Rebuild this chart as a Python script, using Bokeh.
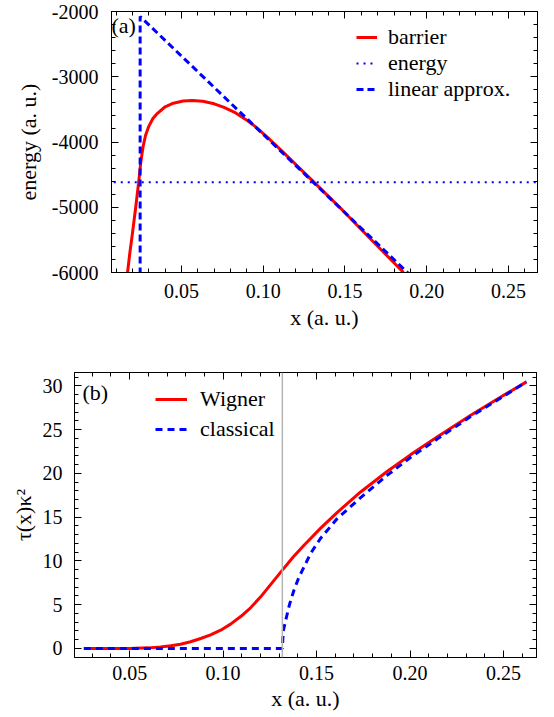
from bokeh.plotting import figure
from bokeh.models import Range1d, FixedTicker, LinearAxis, Legend, LegendItem, Span, Label
from bokeh.embed import file_html
from bokeh.resources import INLINE

FONT = "Liberation Serif"

# ---------------- panel (a) data ----------------
barrier_x = [0.0170, 0.0185, 0.0200, 0.0220, 0.0237, 0.0250, 0.0265, 0.0280, 0.0300,
             0.0325, 0.0353, 0.0400, 0.0450, 0.0510, 0.0567, 0.0630, 0.0700, 0.0760,
             0.0822, 0.0890, 0.0950, 0.1026, 0.1107, 0.1291, 0.1485, 0.1658, 0.1858]
barrier_y = [-6000, -5680, -5400, -5000, -4640, -4330, -4070, -3900, -3760,
             -3640, -3560, -3460, -3405, -3372, -3364, -3375, -3415, -3470,
             -3541, -3650, -3760, -3930, -4120, -4570, -5045, -5490, -6000]
energy_level = -4617
energy_x = [0.0, 0.30]
energy_y = [energy_level, energy_level]
linear_x = [0.0247, 0.0247, 0.1900]
linear_y = [-6200, -2076, -6043]

xticks = [0.05, 0.10, 0.15, 0.20, 0.25]
xtick_labels = ["0.05", "0.10", "0.15", "0.20", "0.25"]
xminor_a = [round(0.01 * i, 2) for i in range(1, 27)]
yticks_a = [-6000, -5000, -4000, -3000, -2000]
yminor_a = list(range(-6000, -1999, 200))

# ---------------- panel (b) data ----------------
wigner_x = [0.0255, 0.040, 0.050, 0.060, 0.0665, 0.0720, 0.0772, 0.0826, 0.088, 0.0933,
            0.0987, 0.1040, 0.1094, 0.1147, 0.1201, 0.1254, 0.1317, 0.1375, 0.1433,
            0.1522, 0.1611, 0.1734, 0.1879, 0.2004, 0.2147, 0.2325, 0.2503, 0.2623]
wigner_y = [0.0, 0.0, 0.01, 0.07, 0.18, 0.31, 0.49, 0.77, 1.14, 1.55,
            2.09, 2.78, 3.65, 4.65, 5.9, 7.3, 8.95, 10.45, 11.8,
            13.75, 15.55, 17.85, 20.25, 22.15, 24.2, 26.65, 28.95, 30.46]
classical_x = [0.0255, 0.1317, 0.1322, 0.1335, 0.1355, 0.1379, 0.1405, 0.1433, 0.1468,
               0.1522, 0.1611, 0.1734, 0.1879, 0.2004, 0.2147, 0.2325, 0.2503, 0.2623]
classical_y = [0.0, 0.0, 2.0, 3.23, 5.0, 6.66, 8.1, 9.32, 10.85,
               12.6, 14.85, 17.2, 19.8, 21.85, 23.95, 26.5, 28.85, 30.46]
turning_point = 0.1317

xminor_b = [round(0.01 * i, 2) for i in range(3, 27)]
yticks_b = [0, 5, 10, 15, 20, 25, 30]
yminor_b = list(range(0, 32))

RED = "#ff0000"
BLUE = "#0000ff"


def style_axis(ax, standoff=10):
    ax.major_tick_in = 7
    ax.major_tick_out = 0
    ax.minor_tick_in = 4
    ax.minor_tick_out = 0
    ax.axis_line_color = "black"
    ax.major_tick_line_color = "black"
    ax.minor_tick_line_color = "black"
    ax.major_label_text_font = FONT
    ax.major_label_text_color = "black"
    ax.major_label_text_font_size = "20px"
    ax.major_label_standoff = standoff
    ax.axis_label_text_font = FONT
    ax.axis_label_text_font_style = "normal"
    ax.axis_label_text_font_size = "22px"
    ax.axis_label_text_color = "black"


def make_fig(height, xr, yr, left, right, top, bottom, xt, xmin, yt, ymin,
             xstand, ystand, xlabel, ylabel, xlab_stand, ylab_stand, ylabels=None):
    p = figure(width=554, height=height, x_range=xr, y_range=yr,
               output_backend="svg", toolbar_location=None,
               min_border_left=left, min_border_right=right,
               min_border_top=top, min_border_bottom=bottom)
    p.xgrid.visible = False
    p.ygrid.visible = False
    p.outline_line_color = "black"
    p.outline_line_width = 1
    p.background_fill_color = "white"
    p.border_fill_color = "white"
    xa = p.below[0]
    ya = p.left[0]
    xa.ticker = FixedTicker(ticks=xt, minor_ticks=xmin)
    ya.ticker = FixedTicker(ticks=yt, minor_ticks=ymin)
    xa.major_label_overrides = dict(zip(xt, xtick_labels))
    if ylabels:
        ya.major_label_overrides = ylabels
    style_axis(xa, standoff=xstand)
    style_axis(ya, standoff=ystand)
    xa.axis_label = xlabel
    xa.axis_label_standoff = xlab_stand
    ya.axis_label = ylabel
    ya.axis_label_standoff = ylab_stand
    # frame ticks on the top and right edges (no labels)
    ax_top = LinearAxis(ticker=FixedTicker(ticks=xt, minor_ticks=xmin))
    ax_right = LinearAxis(ticker=FixedTicker(ticks=yt, minor_ticks=ymin))
    for ax, tks in ((ax_top, xt), (ax_right, yt)):
        style_axis(ax, standoff=0)
        ax.major_label_overrides = {t: "" for t in tks}
    p.add_layout(ax_top, "above")
    p.add_layout(ax_right, "right")
    return p


# ---------------- figure (a) ----------------
pa = make_fig(340, Range1d(0.00719, 0.26774), Range1d(-6000, -2000),
              111, 17, 11, 68, xticks, xminor_a, yticks_a, yminor_a,
              11, 13, "x (a. u.)", "energy (a. u.)", 4, 8,
              ylabels={v: str(v) for v in yticks_a})

r_bar = pa.line(barrier_x, barrier_y, line_color=RED, line_width=3)
r_en = pa.line(energy_x, energy_y, line_color=BLUE, line_width=2, line_dash="2 5")
r_lin = pa.line(linear_x, linear_y, line_color=BLUE, line_width=3, line_dash="7 4")

leg_a = Legend(items=[LegendItem(label="barrier", renderers=[r_bar]),
                      LegendItem(label="energy", renderers=[r_en]),
                      LegendItem(label="linear approx.", renderers=[r_lin])],
               location=(245, 170), label_text_font=FONT, label_text_font_size="22px",
               label_text_color="black", glyph_width=21, glyph_height=20,
               label_standoff=11, spacing=0, padding=0, margin=0,
               border_line_alpha=0, background_fill_alpha=0)
pa.add_layout(leg_a)

pa.add_layout(Label(x=0.00719, y=-2000, text="(a)", text_font=FONT, text_font_size="22px",
                    text_align="left", text_baseline="top", x_offset=0, y_offset=-1,
                    text_color="black"))

# ---------------- figure (b) ----------------
pb = make_fig(377, Range1d(0.0205, 0.26767), Range1d(-1.03, 31.53),
              74, 18, 32, 60, xticks, xminor_b, yticks_b, yminor_b,
              8, 12, "x (a. u.)", "τ(x)κ²", 3, 4)

pb.add_layout(Span(location=turning_point, dimension="height", line_color="#b4b4b4",
                   line_width=1.5))
r_w = pb.line(wigner_x, wigner_y, line_color=RED, line_width=3)
r_c = pb.line(classical_x, classical_y, line_color=BLUE, line_width=3, line_dash="7 5")

leg_b = Legend(items=[LegendItem(label="Wigner", renderers=[r_w]),
                      LegendItem(label="classical", renderers=[r_c])],
               location=(81, 215), label_text_font=FONT, label_text_font_size="22px",
               label_text_color="black", glyph_width=32, glyph_height=20,
               label_standoff=13, spacing=4, padding=0, margin=0,
               border_line_alpha=0, background_fill_alpha=0)
pb.add_layout(leg_b)

pb.add_layout(Label(x=0.0205, y=31.53, text="(b)", text_font=FONT, text_font_size="22px",
                    text_align="left", text_baseline="top", x_offset=8, y_offset=-7,
                    text_color="black"))

# two independent roots so each panel keeps its own frame position
open("out.html", "w").write(file_html((pa, pb), INLINE))
